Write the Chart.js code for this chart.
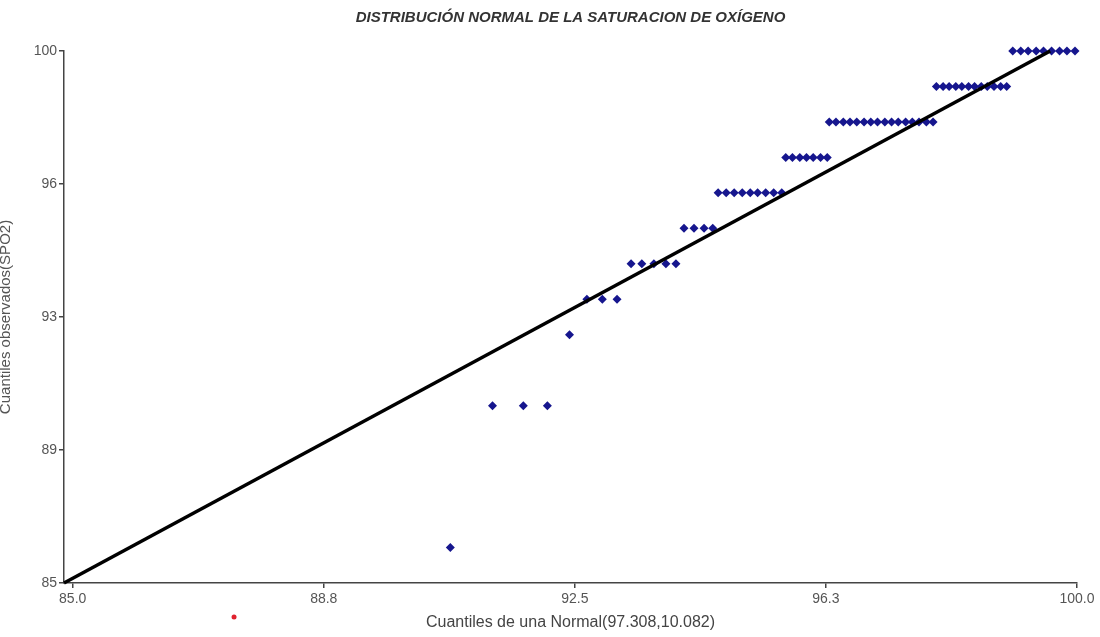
<!DOCTYPE html>
<html>
<head>
<meta charset="utf-8">
<script src="https://cdn.jsdelivr.net/npm/chart.js@4.4.1/dist/chart.umd.min.js"></script>
<style>
  html, body { margin: 0; padding: 0; background: #fff; }
  #wrap { width: 1100px; height: 637px; }
</style>
</head>
<body>
<div id="wrap"><canvas id="graficaQQ" width="1100" height="637"></canvas></div>
<script>
// cuantiles teoricos (eje x) y valores observados de SpO2 (eje y)
const cuantiles = [
  90.64,
  91.27, 91.73, 92.09,
  92.42,
  92.68, 92.91, 93.13,
  93.34, 93.50, 93.68, 93.86, 94.01,
  94.13, 94.28, 94.43, 94.56,
  94.64, 94.76, 94.88, 95.00, 95.12, 95.23, 95.35, 95.47, 95.59,
  95.65, 95.75, 95.86, 95.96, 96.06, 96.17, 96.27,
  96.30, 96.40, 96.51, 96.61, 96.71, 96.82, 96.92, 97.02, 97.13, 97.23, 97.33, 97.44, 97.54, 97.64, 97.75, 97.85,
  97.90, 98.00, 98.09, 98.19, 98.28, 98.38, 98.47, 98.57, 98.66, 98.76, 98.86, 98.95,
  99.04, 99.16, 99.27, 99.39, 99.50, 99.62, 99.74, 99.85, 99.97
];
const observados = [
  86,
  90, 90, 90,
  92,
  93, 93, 93,
  94, 94, 94, 94, 94,
  95, 95, 95, 95,
  96, 96, 96, 96, 96, 96, 96, 96, 96,
  97, 97, 97, 97, 97, 97, 97,
  98, 98, 98, 98, 98, 98, 98, 98, 98, 98, 98, 98, 98, 98, 98, 98,
  99, 99, 99, 99, 99, 99, 99, 99, 99, 99, 99, 99,
  100, 100, 100, 100, 100, 100, 100, 100, 100
];
// recta de referencia
const rectaX = [84.87, 99.6];
const rectaY = [85, 100];
// punto rojo suelto bajo el eje
const marcaX = [87.41];
const marcaY = [84.04];
// marcas de los ejes
const ticksX = [85, 88.75, 92.5, 96.25, 100];
const ticksY = [85, 88.75, 92.5, 96.25, 100];

const puntos = cuantiles.map((x, i) => ({ x: x, y: observados[i] }));
const recta = rectaX.map((x, i) => ({ x: x, y: rectaY[i] }));

const fuente = "'Liberation Sans', Arial, sans-serif";
const $Lienzo = document.getElementById('graficaQQ');

// el punto rojo queda fuera del area del grafico, se dibuja con las escalas
const marcaRoja = {
  id: 'marcaRoja',
  afterDatasetsDraw(chart) {
    const ctx = chart.ctx;
    const ex = chart.scales.x;
    const ey = chart.scales.y;
    ctx.save();
    ctx.fillStyle = '#e0222e';
    for (let i = 0; i < marcaX.length; i++) {
      ctx.beginPath();
      ctx.arc(ex.getPixelForValue(marcaX[i]), ey.getPixelForValue(marcaY[i]), 2.5, 0, Math.PI * 2);
      ctx.fill();
    }
    ctx.restore();
  }
};

new Chart($Lienzo, {
  type: 'scatter',
  data: {
    datasets: [
      {
        type: 'line',
        label: 'Recta',
        data: recta,
        borderColor: '#000',
        borderWidth: 3.5,
        pointRadius: 0,
        fill: false,
        clip: false
      },
      {
        label: 'SpO2',
        data: puntos,
        pointStyle: 'rectRot',
        pointRadius: 4.5,
        backgroundColor: '#16168e',
        borderColor: '#16168e',
        borderWidth: 0,
        clip: false
      }
    ]
  },
  plugins: [marcaRoja],
  options: {
    responsive: false,
    animation: false,
    layout: { padding: { left: 0, right: 23, top: 0, bottom: 0 } },
    plugins: {
      legend: { display: false },
      tooltip: { enabled: false },
      title: {
        display: true,
        fullSize: false,
        text: 'DISTRIBUCIÓN NORMAL DE LA SATURACION DE OXÍGENO',
        color: '#333',
        font: { family: fuente, size: 15, weight: 'bold', style: 'italic' },
        padding: { top: 9, bottom: 24 }
      }
    },
    scales: {
      x: {
        type: 'linear',
        min: 84.87,
        max: 100,
        afterBuildTicks: (escala) => { escala.ticks = ticksX.map(v => ({ value: v })); },
        afterFit: (escala) => { escala.height = 54; },
        ticks: {
          color: '#555',
          font: { family: fuente, size: 14 },
          padding: 3,
          maxRotation: 0,
          callback: (v) => Number(v).toFixed(1)
        },
        grid: { drawOnChartArea: false, drawTicks: true, tickLength: 5, color: '#444', lineWidth: 1.5 },
        border: { color: '#444', width: 1.5 },
        title: {
          display: true,
          text: 'Cuantiles de una Normal(97.308,10.082)',
          color: '#444',
          font: { family: fuente, size: 16 },
          padding: { top: 0, bottom: 5 }
        }
      },
      y: {
        type: 'linear',
        min: 85,
        max: 100,
        afterBuildTicks: (escala) => { escala.ticks = ticksY.map(v => ({ value: v })); },
        afterFit: (escala) => { escala.width = 64; },
        ticks: {
          color: '#555',
          font: { family: fuente, size: 14 },
          padding: 2,
          callback: (v) => Math.round(v)
        },
        grid: { drawOnChartArea: false, drawTicks: true, tickLength: 5, color: '#444', lineWidth: 1.5 },
        border: { color: '#444', width: 1.5 },
        title: {
          display: true,
          text: 'Cuantiles observados(SPO2)',
          color: '#555',
          font: { family: fuente, size: 15 },
          padding: { top: -3, bottom: 0 }
        }
      }
    }
  }
});
</script>
</body>
</html>
